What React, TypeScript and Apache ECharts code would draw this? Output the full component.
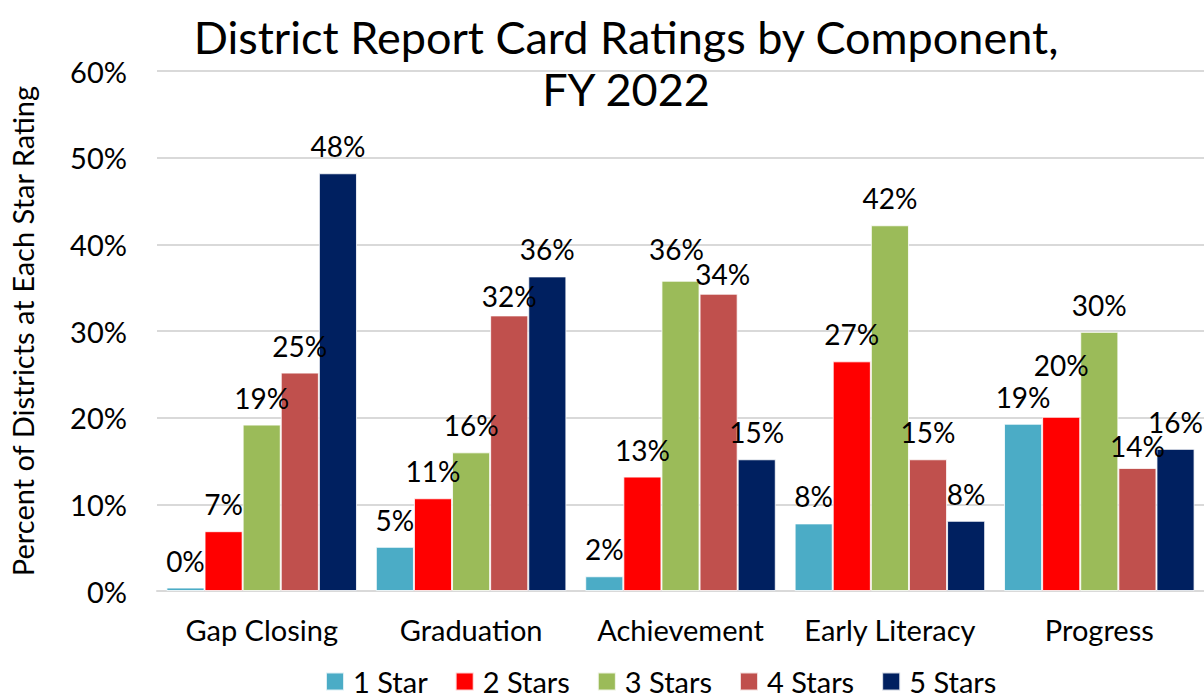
import React, { useEffect, useRef } from "react";
import * as echarts from "echarts";

const categories = ["Gap Closing", "Graduation", "Achievement", "Early Literacy", "Progress"];
const seriesNames = ["1 Star", "2 Stars", "3 Stars", "4 Stars", "5 Stars"];
const oneStar = [0.4, 5.1, 1.7, 7.8, 19.3];
const twoStars = [6.9, 10.7, 13.2, 26.5, 20.1];
const threeStars = [19.2, 16.0, 35.8, 42.2, 29.9];
const fourStars = [25.2, 31.8, 34.3, 15.2, 14.2];
const fiveStars = [48.2, 36.3, 15.2, 8.1, 16.4];
const colors = ["#4BACC6", "#FF0000", "#9BBB59", "#C0504D", "#002060"];
const yTicks = [0, 10, 20, 30, 40, 50, 60];

const FONT = "Lato";

export default function App() {
  const ref = useRef<HTMLDivElement>(null);
  useEffect(() => {
    if (!ref.current) return;
    const chart = echarts.init(ref.current, undefined, { renderer: "svg" });
    const allData = [oneStar, twoStars, threeStars, fourStars, fiveStars];
    // label offsets (px) to mimic label placement in the reference
    const labelOffsets: Record<string, [number, number]> = {
      "1-4": [0, -25],
      "3-4": [0, 5],
      "3-1": [0, 8],
      "2-2": [-4, -5],
      "3-2": [4, 7],
    };
    const series = seriesNames.map((name, si) => ({
      name,
      type: "bar",
      barGap: "0%",
      barCategoryGap: "9%",
      itemStyle: { color: colors[si], borderColor: "rgba(255,255,255,0.8)", borderWidth: 1 },
      data: allData[si].map((v, ci) => {
        const off = labelOffsets[`${si}-${ci}`];
        return off ? { value: v, label: { offset: off } } : v;
      }),
      label: {
        show: true,
        position: "top",
        distance: 13,
        formatter: (p: any) => `${Math.round(p.value)}%`,
        fontFamily: FONT,
        fontSize: 28,
        color: "#000",
      },
    }));
    chart.setOption({
      animation: false,
      color: colors,
      title: {
        text: "District Report Card Ratings by Component,\nFY 2022",
        left: 621,
        textAlign: "center",
        top: 6,
        textStyle: { fontFamily: FONT, fontSize: 45, fontWeight: "normal", color: "#000", lineHeight: 52 },
      },
      legend: {
        bottom: -3,
        left: 320,
        data: seriesNames,
        icon: "rect",
        itemWidth: 18,
        itemHeight: 18,
        itemGap: 27,
        textStyle: { fontFamily: FONT, fontSize: 29, color: "#000", padding: [0, 0, 0, 4] },
      },
      grid: { left: 152, right: -5, top: 71, bottom: 107, containLabel: false },
      xAxis: {
        type: "category",
        data: categories,
        axisLine: { lineStyle: { color: "#d9d9d9", width: 2 } },
        axisTick: { show: false },
        axisLabel: { fontFamily: FONT, fontSize: 29, color: "#000", margin: 24, interval: 0 },
      },
      yAxis: {
        type: "value",
        min: yTicks[0],
        max: yTicks[yTicks.length - 1],
        interval: 10,
        name: "Percent of Districts at Each Star Rating",
        nameLocation: "middle",
        nameGap: 120,
        nameTextStyle: { fontFamily: FONT, fontSize: 29, color: "#000" },
        axisLabel: { fontFamily: FONT, fontSize: 29, color: "#000", formatter: "{value}%", margin: 30 },
        splitLine: { lineStyle: { color: "#d9d9d9", width: 2 } },
        axisLine: { show: false },
      },
      series,
    });
    return () => chart.dispose();
  }, []);
  return (
    <div
      ref={ref}
      style={{ position: "absolute", left: 0, top: 0, width: 1204, height: 698, background: "#fff" }}
    />
  );
}
